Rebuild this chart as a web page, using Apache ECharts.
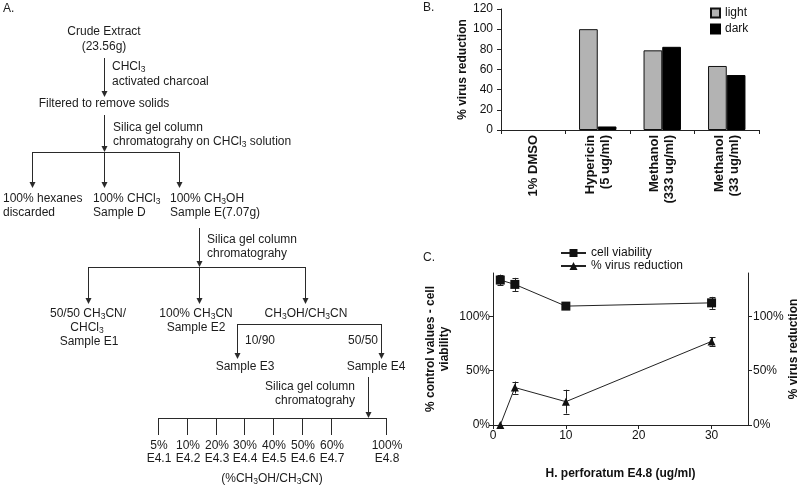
<!DOCTYPE html>
<html><head><meta charset="utf-8">
<script src="https://cdn.jsdelivr.net/npm/echarts@6/dist/echarts.min.js"></script>
<style>html,body{margin:0;padding:0;background:#fff}#c{width:800px;height:491px}</style>
</head><body><div id="c"></div>
<script>
// ---------- Panel B data ----------
const bCategories = ['1% DMSO', 'Hypericin\n(5 ug/ml)', 'Methanol\n(333 ug/ml)', 'Methanol\n(33 ug/ml)'];
const bLight = [0, 100, 79, 63.5];
const bDark = [0, 3.5, 82.5, 54.5];
const bSeriesNames = ['light', 'dark'];

// ---------- Panel C data ----------
const cDose = [1, 3, 10, 30];
const cViability = [133.5, 129.5, 109.5, 112.5];
const cViabilityErr = [5, 6, 1.5, 5.5];
const cVirus = [0, 34.5, 21.5, 77];
const cVirusErr = [0, 5.5, 11, 4];
const cSeriesNames = ['cell viability', '% virus reduction'];
const cDoseTicks = [0, 10, 20, 30];
const cPctTicks = [0, 50, 100];

// ---------- Panel A (flow chart) fraction labels ----------
const fractionPct = ['5%', '10%', '20%', '30%', '40%', '50%', '60%', '100%'];
const fractionName = ['E4.1', 'E4.2', 'E4.3', 'E4.4', 'E4.5', 'E4.6', 'E4.7', 'E4.8'];

const FONT = "'Liberation Sans', Arial, Helvetica, sans-serif";
const INK = '#1c1c1c';
const LINE = '#2a2a2a';

const g = [];
function txt(x, y, s, align, extra) {
  g.push({type: 'text', x: x, y: y, silent: true, z: 10,
    style: Object.assign({text: s, fill: INK, fontFamily: FONT, fontSize: 12,
      align: align || 'left', verticalAlign: 'middle',
      rich: {s: {fontSize: 8.5, fontFamily: FONT, fill: INK, verticalAlign: 'bottom', lineHeight: 15}}}, extra || {})});
}
function ln(x1, y1, x2, y2) {
  const ox = x1 === x2 ? 0.5 : 0, oy = y1 === y2 ? 0.5 : 0;
  g.push({type: 'line', silent: true, z: 10, shape: {x1: x1 + ox, y1: y1 + oy, x2: x2 + ox, y2: y2 + oy},
    style: {stroke: LINE, lineWidth: 1}});
}
function arrow(x, y1, y2) {
  ln(x, y1, x, y2 - 5);
  g.push({type: 'polygon', silent: true, z: 10,
    shape: {points: [[x - 2.5, y2 - 6], [x + 3.5, y2 - 6], [x + 0.5, y2]]}, style: {fill: LINE}});
}

// Panel A
txt(3, 9, 'A.');
txt(104, 32, 'Crude Extract', 'center');
txt(104, 47, '(23.56g)', 'center');
arrow(104, 58, 97);
txt(112, 67, 'CHCl{s|3}');
txt(112, 82, 'activated charcoal');
txt(104, 104, 'Filtered to remove solids', 'center');
arrow(104, 115, 152);
txt(113, 128, 'Silica gel column');
txt(113, 142, 'chromatograhy on CHCl{s|3} solution');
ln(32, 152, 179, 152);
arrow(32, 152, 188); arrow(104, 152, 188); arrow(179, 152, 188);
txt(3, 199, '100% hexanes'); txt(3, 213, 'discarded');
txt(93, 199, '100% CHCl{s|3}'); txt(93, 213, 'Sample D');
txt(170, 199, '100% CH{s|3}OH'); txt(170, 213, 'Sample E(7.07g)');
arrow(199, 228, 267);
txt(207, 240, 'Silica gel column'); txt(207, 254, 'chromatograhy');
ln(88, 267, 305, 267);
arrow(88, 267, 304); arrow(199, 267, 304); arrow(305, 267, 304);
txt(88, 314, '50/50 CH{s|3}CN/', 'center');
txt(87, 328, 'CHCl{s|3}', 'center');
txt(89, 342, 'Sample E1', 'center');
txt(196, 314, '100% CH{s|3}CN', 'center');
txt(196, 328, 'Sample E2', 'center');
txt(306, 314, 'CH{s|3}OH/CH{s|3}CN', 'center');
ln(237, 324, 381, 324);
arrow(237, 324, 359); arrow(381, 324, 359);
txt(245, 341, '10/90'); txt(348, 341, '50/50');
txt(245, 367, 'Sample E3', 'center'); txt(376, 367, 'Sample E4', 'center');
arrow(368, 377, 418);
txt(355, 387, 'Silica gel column', 'right');
txt(355, 401, 'chromatograhy', 'right');
ln(158, 418, 386, 418);
const fracX = [158, 187, 216, 244, 273, 302, 331, 386];
fracX.forEach(function (x, i) {
  ln(x, 418, x, 435);
  txt(x + 1, 446, fractionPct[i], 'center');
  txt(x + 1, 459, fractionName[i], 'center');
});
txt(272, 479, '(%CH{s|3}OH/CH{s|3}CN)', 'center');

// panel letters
txt(423, 8, 'B.');
txt(423, 258, 'C.');

const chart = echarts.init(document.getElementById('c'), null, {renderer: 'canvas'});

const axisLineStyle = {show: true, lineStyle: {color: '#222', width: 1}};
const labelStyle = {color: '#111', fontSize: 12, fontFamily: FONT};
const nameStyle = {color: '#111', fontSize: 12, fontWeight: 'bold', fontFamily: FONT};

function errRender(params, api) {
  const x = api.value(0), y = api.value(1), e = api.value(2);
  if (!e) return null;
  const top = api.coord([x, y + e]);
  const bot = api.coord([x, y - e]);
  const cx = Math.round(top[0]) + 0.5;
  const w = 3;
  const st = {stroke: '#222', lineWidth: 1};
  return {type: 'group', children: [
    {type: 'line', shape: {x1: cx, y1: top[1], x2: cx, y2: bot[1]}, style: st},
    {type: 'line', shape: {x1: cx - w, y1: Math.round(top[1]) + 0.5, x2: cx + w, y2: Math.round(top[1]) + 0.5}, style: st},
    {type: 'line', shape: {x1: cx - w, y1: Math.round(bot[1]) + 0.5, x2: cx + w, y2: Math.round(bot[1]) + 0.5}, style: st}
  ]};
}
// zero-height bars draw nothing (no outline on the axis)
function barData(arr) {
  return arr.map(function (v) { return v === 0 ? {value: v, itemStyle: {borderWidth: 0}} : v; });
}

const option = {
  animation: false,
  backgroundColor: '#fff',
  textStyle: {fontFamily: FONT},
  graphic: g,
  legend: [
    {data: bSeriesNames, orient: 'vertical', left: 710, top: 7, itemWidth: 9, itemHeight: 9, itemGap: 4,
      padding: 0, icon: 'rect', textStyle: {color: '#111', fontSize: 12, fontFamily: FONT}},
    {data: cSeriesNames, orient: 'vertical', left: 560, top: 247, itemWidth: 25, itemHeight: 10, itemGap: 1,
      padding: 0, textStyle: {color: '#111', fontSize: 12, fontFamily: FONT}}
  ],
  grid: [
    {left: 501, right: 41, top: 9, bottom: 361, outerBoundsMode: 'none'},
    {left: 493, right: 52, top: 273, bottom: 66, outerBoundsMode: 'none'}
  ],
  xAxis: [
    {gridIndex: 0, type: 'category', data: bCategories, boundaryGap: true,
      axisLine: axisLineStyle, axisTick: {show: true, length: 4, lineStyle: {color: '#222'}},
      axisLabel: Object.assign({}, labelStyle, {rotate: 90, interval: 0, margin: 5, fontWeight: 'bold', fontSize: 13, lineHeight: 15}),
      splitLine: {show: false}},
    {gridIndex: 1, type: 'value', min: 0, max: 35, interval: 10,
      axisLine: axisLineStyle,
      axisTick: {show: true, length: 4, customValues: cDoseTicks, lineStyle: {color: '#222'}},
      axisLabel: Object.assign({}, labelStyle, {margin: 5, customValues: cDoseTicks}),
      splitLine: {show: false},
      name: 'H. perforatum E4.8 (ug/ml)', nameLocation: 'middle', nameGap: 43, nameTextStyle: nameStyle}
  ],
  yAxis: [
    {gridIndex: 0, type: 'value', min: 0, max: 120, interval: 20,
      axisLine: axisLineStyle, axisTick: {show: true, length: 4, lineStyle: {color: '#222'}},
      axisLabel: Object.assign({}, labelStyle, {margin: 8}),
      splitLine: {show: false},
      name: '% virus reduction', nameLocation: 'middle', nameRotate: 90, nameGap: 32, nameTextStyle: nameStyle},
    {gridIndex: 1, type: 'value', position: 'left', min: 0, max: 140, interval: 50,
      axisLine: axisLineStyle,
      axisTick: {show: true, length: 4, customValues: cPctTicks, lineStyle: {color: '#222'}},
      axisLabel: Object.assign({}, labelStyle, {margin: 3, formatter: '{value}%', customValues: cPctTicks}),
      splitLine: {show: false},
      name: '% control values - cell\nviability', nameLocation: 'middle', nameRotate: 90, nameGap: 41,
      nameTextStyle: Object.assign({}, nameStyle, {lineHeight: 14})},
    {gridIndex: 1, type: 'value', position: 'right', min: 0, max: 140, interval: 50,
      axisLine: axisLineStyle,
      axisTick: {show: true, length: 4, customValues: cPctTicks, lineStyle: {color: '#222'}},
      axisLabel: Object.assign({}, labelStyle, {margin: 5, formatter: '{value}%', customValues: cPctTicks}),
      splitLine: {show: false},
      name: '% virus reduction', nameLocation: 'middle', nameRotate: 90, nameGap: 39, nameTextStyle: nameStyle}
  ],
  series: [
    {name: bSeriesNames[0], type: 'bar', xAxisIndex: 0, yAxisIndex: 0, data: barData(bLight),
      barGap: '0%', barCategoryGap: '42%',
      itemStyle: {color: '#b3b3b3', borderColor: '#111', borderWidth: 1}},
    {name: bSeriesNames[1], type: 'bar', xAxisIndex: 0, yAxisIndex: 0, data: barData(bDark),
      barGap: '0%', barCategoryGap: '42%',
      itemStyle: {color: '#000', borderColor: '#000', borderWidth: 1}},
    {type: 'custom', xAxisIndex: 1, yAxisIndex: 1, z: 2, renderItem: errRender,
      data: cDose.map(function (d, i) { return [d, cViability[i], cViabilityErr[i]]; })},
    {type: 'custom', xAxisIndex: 1, yAxisIndex: 2, z: 2, renderItem: errRender,
      data: cDose.map(function (d, i) { return [d, cVirus[i], cVirusErr[i]]; })},
    {name: cSeriesNames[0], type: 'line', xAxisIndex: 1, yAxisIndex: 1, z: 3,
      data: cDose.map(function (d, i) { return [d, cViability[i]]; }),
      symbol: 'rect', symbolSize: 9, showAllSymbol: true,
      itemStyle: {color: '#111'}, lineStyle: {color: '#222', width: 1}},
    {name: cSeriesNames[1], type: 'line', xAxisIndex: 1, yAxisIndex: 2, z: 3,
      data: cDose.map(function (d, i) { return [d, cVirus[i]]; }),
      symbol: 'triangle', symbolSize: 8, showAllSymbol: true,
      itemStyle: {color: '#111'}, lineStyle: {color: '#222', width: 1}}
  ]
};
chart.setOption(option);
</script>
</body></html>
